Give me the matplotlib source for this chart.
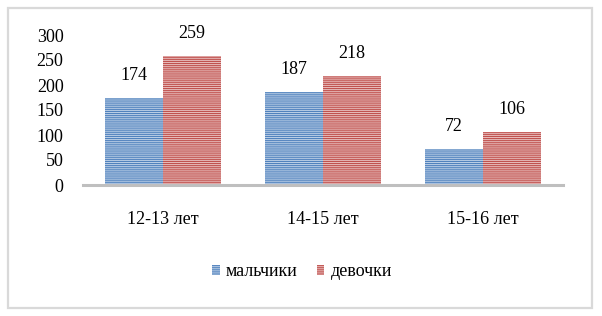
import numpy as np
import matplotlib.pyplot as plt
from matplotlib.patches import Rectangle

# dados
categorias = ['12-13 лет', '14-15 лет', '15-16 лет']
malchiki = [174, 187, 72]
devochki = [259, 218, 106]
series_names = ['мальчики', 'девочки']
y_ticks = [0, 50, 100, 150, 200, 250, 300]

plt.rcParams['font.family'] = ['Liberation Serif', 'DejaVu Serif']
plt.rcParams['hatch.linewidth'] = 0.75

fig = plt.figure(figsize=(6.02, 3.16), dpi=100)
ax = fig.add_axes([83 / 602, 1 - 185 / 316, 480 / 602, 150 / 316])

# moldura externa
fig.patches.append(Rectangle((8 / 602, 8 / 316), 584 / 602, 300 / 316,
                             transform=fig.transFigure, fill=False,
                             edgecolor='#D9D9D9', linewidth=1.6))

x = np.arange(len(categorias))
w = 0.3625
b1 = ax.bar(x - w / 2, malchiki, w, color='#B9CDE5', edgecolor='#4F81BD',
            hatch='-' * 8, linewidth=0, label=series_names[0])
b2 = ax.bar(x + w / 2, devochki, w, color='#E6B9B8', edgecolor='#C0504D',
            hatch='-' * 8, linewidth=0, label=series_names[1])

for bars, vals in ((b1, malchiki), (b2, devochki)):
    for rect, v in zip(bars, vals):
        ax.annotate(str(v), (rect.get_x() + rect.get_width() / 2, v),
                    xytext=(0, 10), textcoords='offset points',
                    ha='center', va='bottom', fontsize=13)

ax.set_xlim(-0.5, 2.5)
ax.set_ylim(0, 300)
ax.set_yticks(y_ticks)
ax.set_xticks(x)
ax.set_xticklabels(categorias)
ax.tick_params(axis='both', length=0, labelsize=13)
ax.tick_params(axis='y', pad=14)
ax.tick_params(axis='x', pad=19)
for s in ['top', 'right', 'left']:
    ax.spines[s].set_visible(False)
ax.spines['bottom'].set_color('#BFBFBF')
ax.spines['bottom'].set_linewidth(2.2)

fig.legend(handles=[b1, b2], labels=series_names, loc='center',
           bbox_to_anchor=(302 / 602, 1 - 272 / 316), ncol=2, frameon=False,
           fontsize=13, handlelength=0.42, handleheight=0.45,
           handletextpad=0.35, columnspacing=1.05)

plt.savefig('out.png', dpi=100)
